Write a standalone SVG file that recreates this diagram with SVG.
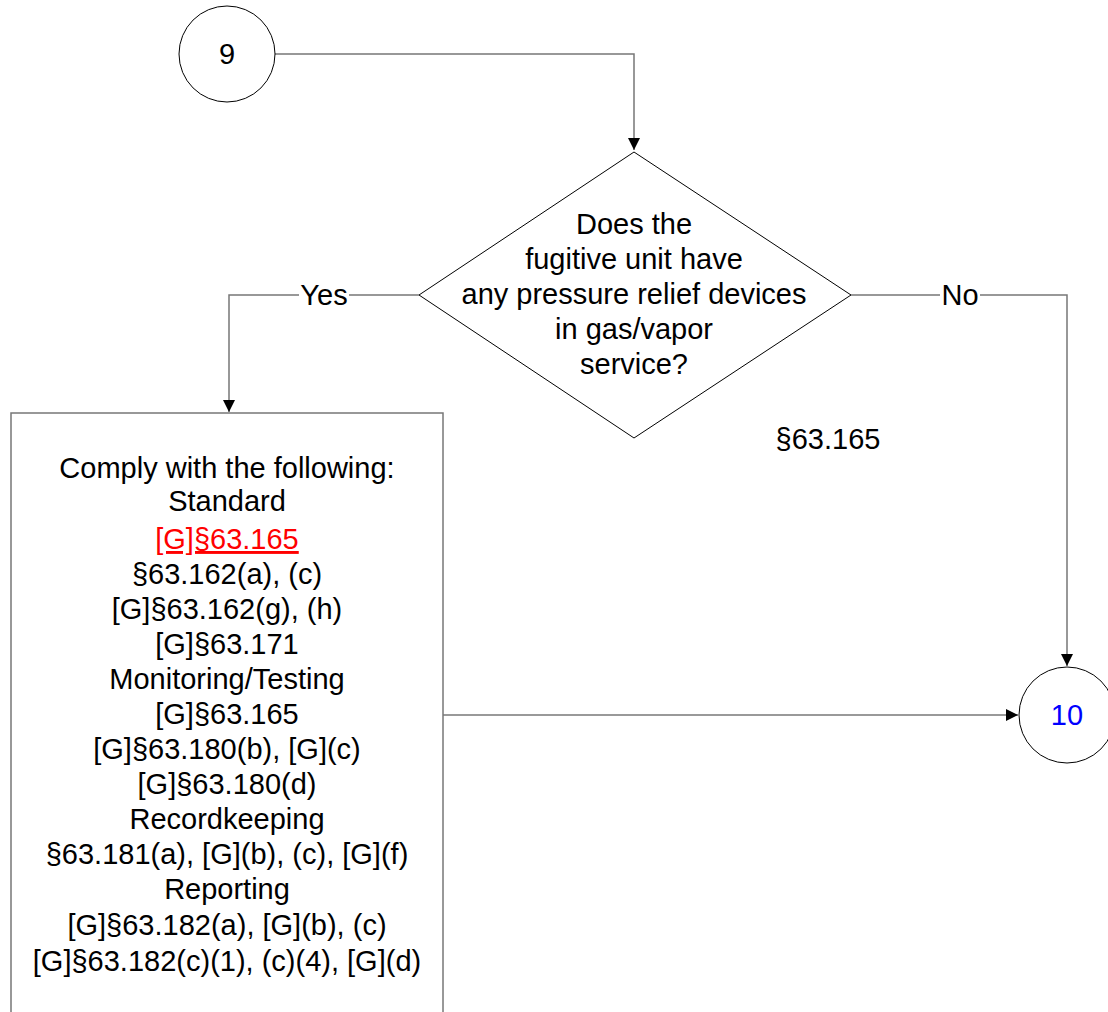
<svg xmlns="http://www.w3.org/2000/svg" width="1108" height="1012" viewBox="0 0 1108 1012">
<defs>
<marker id="arr" markerWidth="12" markerHeight="12" viewBox="0 0 12 12" refX="12" refY="6" orient="auto" markerUnits="userSpaceOnUse">
<path d="M0,0 L12,6 L0,12 Z" fill="#000"/>
</marker>
<style>
.t{font-family:"Liberation Sans",Arial,sans-serif;font-size:29px;fill:#000;text-anchor:middle}
.shape{fill:#fff;stroke:#000;stroke-width:1}
.box{fill:#fff;stroke:#777;stroke-width:1.5}
.conn{fill:none;stroke:#777;stroke-width:1.5}
.lbl{fill:#fff}
</style>
</defs>
<rect width="1108" height="1012" fill="#fff"/>
<g id="connectors">
<path class="conn" d="M275,54 H634 V150" marker-end="url(#arr)"/>
<path class="conn" d="M419,295 H229 V412" marker-end="url(#arr)"/>
<path class="conn" d="M851,295 H1067 V666" marker-end="url(#arr)"/>
<path class="conn" d="M443,715 H1018" marker-end="url(#arr)"/>
<rect class="lbl" x="299" y="282" width="50" height="28"/>
<text class="t" x="324" y="305">Yes</text>
<rect class="lbl" x="940" y="282" width="40" height="28"/>
<text class="t" x="960" y="305">No</text>
</g>
<g id="node9">
<circle class="shape" cx="227" cy="54" r="48"/>
<text class="t" x="227" y="64">9</text>
</g>
<g id="decision">
<polygon class="shape" points="634,152 851,295 634,438 419,295"/>
<text class="t" x="634" y="234">Does the</text>
<text class="t" x="634" y="269">fugitive unit have</text>
<text class="t" x="634" y="304">any pressure relief devices</text>
<text class="t" x="634" y="339">in gas/vapor</text>
<text class="t" x="634" y="374">service?</text>
</g>
<g id="ref">
<text class="t" x="828" y="449">§63.165</text>
</g>
<g id="comply">
<rect class="box" x="11" y="413" width="432" height="620"/>
<text class="t" x="227" y="478">Comply with the following:</text>
<text class="t" x="227" y="511">Standard</text>
<text class="t" x="227" y="549" fill="#ff0000" style="fill:#ff0000" text-decoration="underline">[G]§63.165</text>
<text class="t" x="227" y="584">§63.162(a), (c)</text>
<text class="t" x="227" y="619">[G]§63.162(g), (h)</text>
<text class="t" x="227" y="654">[G]§63.171</text>
<text class="t" x="227" y="689">Monitoring/Testing</text>
<text class="t" x="227" y="724">[G]§63.165</text>
<text class="t" x="227" y="759">[G]§63.180(b), [G](c)</text>
<text class="t" x="227" y="794">[G]§63.180(d)</text>
<text class="t" x="227" y="829">Recordkeeping</text>
<text class="t" x="227" y="864">§63.181(a), [G](b), (c), [G](f)</text>
<text class="t" x="227" y="899">Reporting</text>
<text class="t" x="227" y="935">[G]§63.182(a), [G](b), (c)</text>
<text class="t" x="227" y="971">[G]§63.182(c)(1), (c)(4), [G](d)</text>
</g>
<g id="node10">
<circle class="shape" cx="1067" cy="715" r="48"/>
<text class="t" x="1067" y="725" style="fill:#0000ff">10</text>
</g>
</svg>
